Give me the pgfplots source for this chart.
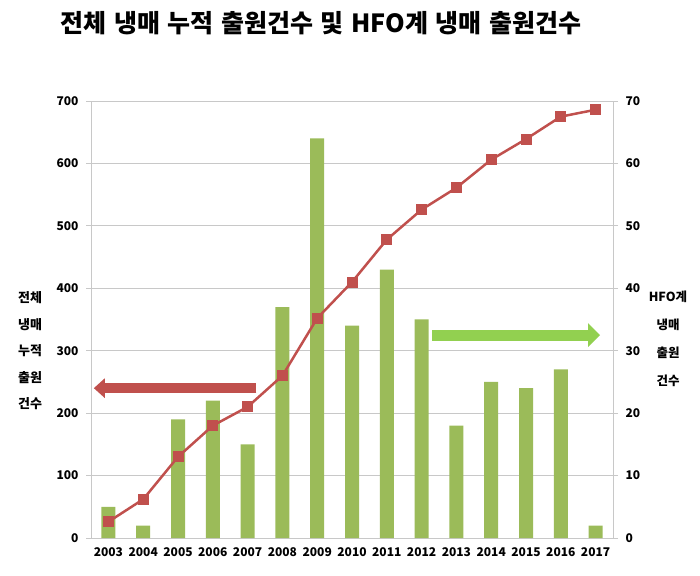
\documentclass[border=0pt]{standalone}
\usepackage{fontspec}
\setmainfont{Noto Sans CJK KR}
\usepackage{pgfplots}
\pgfplotsset{compat=1.18}
\usetikzlibrary{arrows.meta}
\definecolor{barg}{HTML}{9BBB59}
\definecolor{liner}{HTML}{C0504D}
\definecolor{arrg}{HTML}{92D050}
\definecolor{gridc}{HTML}{C8C8C8}

\pgfplotsset{
  common/.style={
    scale only axis, width=522pt, height=437pt,
    at={(91pt,37pt)}, anchor=south west,
    xmin=-0.5, xmax=14.5, ymin=0,
    tick label style={font=\bfseries\fontsize{12}{14}\selectfont},
    /pgf/number format/assume math mode=true,
    axis line style={gridc, line width=1pt},
    tick style={gridc, line width=0.8pt},
    tick align=outside,
    major tick length=5pt,
  }
}

\begin{document}
\begin{tikzpicture}
\useasboundingbox (0,0) rectangle (700pt,575pt);

% HFO bars, right axis
\begin{axis}[common,
  ymax=70, ytick={0,10,...,70},
  axis y line*=right, axis x line*=bottom,
  ymajorgrids, grid style={gridc, line width=0.8pt},
  xtick=data,
  xticklabels={2003,2004,2005,2006,2007,2008,2009,2010,2011,2012,2013,2014,2015,2016,2017},
  x tick style={draw=none},
  minor x tick num=1,
  minor x tick style={gridc, line width=0.8pt},
  minor tick length=5pt,
  yticklabel style={xshift=4pt},
  xticklabel style={yshift=-1pt},
]
\addplot[ybar, bar width=14pt, fill=barg, draw=none] coordinates {
  (0,5) (1,2) (2,19) (3,22) (4,15) (5,37) (6,64) (7,34)
  (8,43) (9,35) (10,18) (11,25) (12,24) (13,27) (14,2)
};
\end{axis}

% cumulative line, left axis
\begin{axis}[common,
  ymax=700, ytick={0,100,...,700},
  axis y line*=left, axis x line=none,
  yticklabel style={xshift=-4pt},
  clip=false,
]
\addplot[liner, line width=2.5pt, mark=square*, mark size=5pt,
  mark options={fill=liner, draw=liner, line width=0pt}] coordinates {
  (0,26) (1,62) (2,130) (3,180) (4,210) (5,260) (6,352) (7,410)
  (8,478) (9,526) (10,561) (11,606) (12,639) (13,675) (14,686)
};
\draw[liner, line width=10pt, -{Triangle[length=11pt, width=19pt]}]
  (axis cs:4.25,240) -- (axis cs:-0.42,240);
\draw[arrg, line width=11pt, -{Triangle[length=12pt, width=23pt]}]
  (axis cs:9.3,325) -- (axis cs:14.13,325);
\end{axis}

\node[font=\bfseries\fontsize{25}{28}\selectfont, anchor=center] at (321pt,552pt)
  {전체\hspace{0.3em}냉매\hspace{0.3em}누적\hspace{0.3em}출원건수\hspace{0.3em}및\hspace{0.3em}HFO계\hspace{0.3em}냉매\hspace{0.3em}출원건수};
\node[font=\bfseries\fontsize{13}{26.5}\selectfont, align=center, anchor=center] at (30pt,224pt)
  {전체\\냉매\\누적\\출원\\건수};
\node[font=\bfseries\fontsize{12.5}{28}\selectfont, align=center, anchor=center] at (668pt,236pt)
  {HFO계\\냉매\\출원\\건수};
\end{tikzpicture}
\end{document}
